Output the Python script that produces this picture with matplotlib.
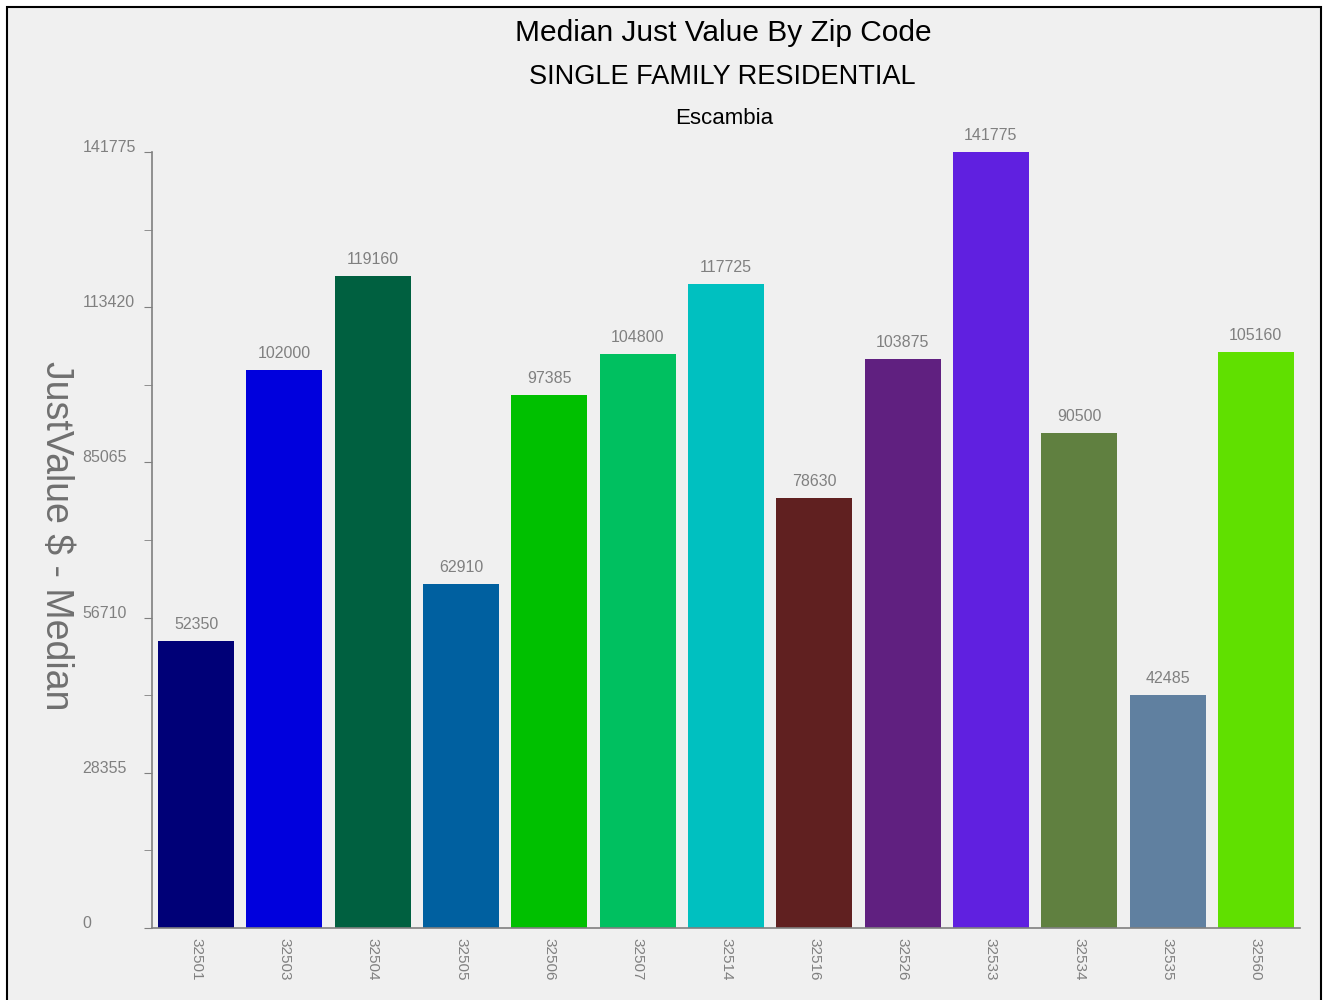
import numpy as np
import matplotlib.pyplot as plt
from matplotlib.patches import Rectangle
from matplotlib.ticker import MultipleLocator

plt.rcParams['font.family'] = ['Liberation Sans', 'DejaVu Sans']

# data
zip_codes = ['32501', '32503', '32504', '32505', '32506', '32507', '32514',
             '32516', '32526', '32533', '32534', '32535', '32560']
median_values = [52350, 102000, 119160, 62910, 97385, 104800, 117725,
                 78630, 103875, 141775, 90500, 42485, 105160]
bar_colors = ['#000077', '#0000DD', '#006040', '#0060A0', '#00C000', '#00C060',
              '#00C0C0', '#602020', '#602080', '#6020E0', '#608040', '#6080A0',
              '#60E000']
y_max = 141775
y_step = 28355

fig = plt.figure(figsize=(13.25, 10), dpi=100)
fig.patch.set_facecolor('white')

# light grey panel with black frame
fig.patches.append(Rectangle((7 / 1325, -0.01), 1314 / 1325, 1.003,
                             transform=fig.transFigure, facecolor='#F0F0F0',
                             edgecolor='black', linewidth=1.5, zorder=-10))

ax = fig.add_axes([152 / 1325, 72 / 1000, 1148 / 1325, 776 / 1000])
ax.set_facecolor('none')

x = np.arange(len(zip_codes))
bars = ax.bar(x, median_values, width=0.86, color=bar_colors)

for b, v in zip(bars, median_values):
    ax.annotate(str(v), (b.get_x() + b.get_width() / 2, v), xytext=(0, 6.5),
                textcoords='offset points', ha='center', va='bottom',
                fontsize=11.5, color='#808080')

ax.set_xlim(-0.5, len(zip_codes) - 0.5)
ax.set_ylim(0, y_max)

ax.set_xticks(x)
ax.set_xticklabels(zip_codes, rotation=-90, fontsize=11, color='#808080')
ax.tick_params(axis='x', length=0, pad=7)

ax.yaxis.set_major_locator(MultipleLocator(y_step))
ax.yaxis.set_minor_locator(MultipleLocator(y_step / 2))
ax.tick_params(axis='y', which='both', length=6, color='#808080', direction='out')
ax.tick_params(axis='y', which='major', pad=44, labelsize=11.5, labelcolor='#808080')
for lbl in ax.get_yticklabels():
    lbl.set_horizontalalignment('left')
    lbl.set_verticalalignment('baseline')

for s in ['top', 'right']:
    ax.spines[s].set_visible(False)
for s in ['left', 'bottom']:
    ax.spines[s].set_color('#808080')
    ax.spines[s].set_linewidth(1.2)

fig.text(723 / 1325, 1 - 33 / 1000, 'Median Just Value By Zip Code',
         ha='center', va='center', fontsize=21.5, color='black')
fig.text(722 / 1325, 1 - 77 / 1000, 'SINGLE FAMILY RESIDENTIAL',
         ha='center', va='center', fontsize=19.5, color='black')
fig.text(724 / 1325, 1 - 119 / 1000, 'Escambia',
         ha='center', va='center', fontsize=16, color='black')
fig.text(56 / 1325, 1 - 536 / 1000, 'JustValue $ - Median', rotation=-90,
         ha='center', va='center', fontsize=27, color='#707070')

fig.savefig('out.png', dpi=100, facecolor=fig.get_facecolor())
